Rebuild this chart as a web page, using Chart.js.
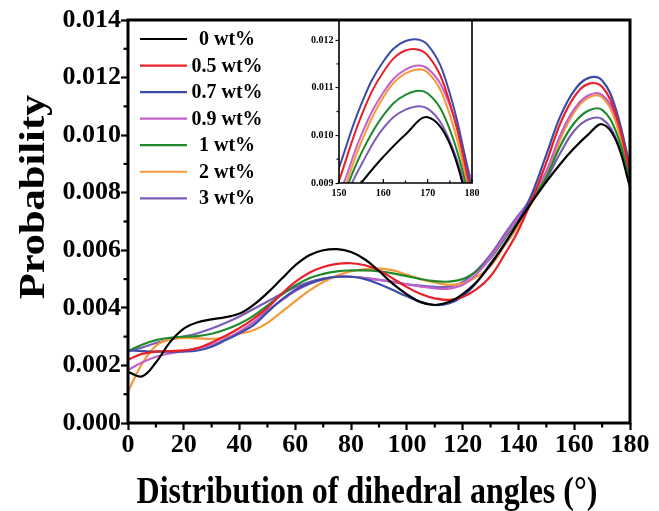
<!DOCTYPE html>
<html><head><meta charset="utf-8">
<script src="https://cdn.jsdelivr.net/npm/chart.js@4.4.0/dist/chart.umd.min.js"></script>
<style>
html,body{margin:0;padding:0;background:#fff;}
#wrap{position:relative;width:659px;height:511px;overflow:hidden;}
#main{position:absolute;left:0;top:0;}
#inset{position:absolute;left:290px;top:10px;}
</style></head><body>
<div id="wrap">
<canvas id="main" width="659" height="511"></canvas>
<canvas id="inset" width="200" height="210"></canvas>
</div>
<script>
// ---------- data ----------
const angles = [0,5,10,15,20,25,30,35,40,45,50,55,60,65,70,75,80,85,90,95,100,105,110,115,120,125,130,135,140,145,150,155,160,165,170,175,180];
const seriesLabels = ['0 wt%','0.5 wt%','0.7 wt%','0.9 wt%','1 wt%','2 wt%','3 wt%'];
const wt0  = [0.00178,0.00162,0.00210,0.00280,0.00328,0.00350,0.00360,0.00368,0.00380,0.00410,0.00452,0.00500,0.00548,0.00583,0.00600,0.00604,0.00594,0.00568,0.00528,0.00483,0.00447,0.00420,0.00410,0.00420,0.00448,0.00490,0.00550,0.00622,0.00698,0.00770,0.00838,0.00900,0.00955,0.01002,0.01038,0.00982,0.00820];
const wt05 = [0.00220,0.00240,0.00248,0.00250,0.00252,0.00260,0.00280,0.00303,0.00330,0.00362,0.00400,0.00448,0.00490,0.00522,0.00542,0.00553,0.00555,0.00548,0.00530,0.00502,0.00472,0.00448,0.00433,0.00428,0.00438,0.00465,0.00510,0.00585,0.00670,0.00780,0.00905,0.01040,0.01133,0.01178,0.01168,0.01068,0.00870];
const wt07 = [0.00252,0.00250,0.00248,0.00248,0.00248,0.00252,0.00265,0.00288,0.00312,0.00340,0.00385,0.00428,0.00462,0.00485,0.00500,0.00508,0.00508,0.00500,0.00483,0.00462,0.00440,0.00420,0.00410,0.00415,0.00440,0.00488,0.00555,0.00620,0.00700,0.00800,0.00932,0.01065,0.01155,0.01198,0.01190,0.01088,0.00885];
const wt09 = [0.00184,0.00210,0.00230,0.00242,0.00250,0.00260,0.00272,0.00292,0.00318,0.00350,0.00390,0.00425,0.00458,0.00483,0.00500,0.00508,0.00508,0.00503,0.00497,0.00490,0.00482,0.00474,0.00468,0.00467,0.00480,0.00518,0.00575,0.00645,0.00715,0.00790,0.00875,0.01000,0.01090,0.01138,0.01140,0.01063,0.00900];
const wt1  = [0.00250,0.00272,0.00288,0.00296,0.00300,0.00302,0.00310,0.00325,0.00345,0.00372,0.00408,0.00445,0.00478,0.00503,0.00518,0.00527,0.00530,0.00530,0.00527,0.00520,0.00510,0.00500,0.00493,0.00491,0.00500,0.00528,0.00572,0.00640,0.00710,0.00780,0.00855,0.00962,0.01042,0.01085,0.01088,0.01012,0.00848];
const wt2  = [0.00110,0.00205,0.00268,0.00290,0.00295,0.00294,0.00292,0.00298,0.00310,0.00322,0.00348,0.00385,0.00423,0.00460,0.00490,0.00512,0.00527,0.00535,0.00537,0.00530,0.00515,0.00500,0.00488,0.00480,0.00485,0.00508,0.00545,0.00615,0.00685,0.00770,0.00860,0.00985,0.01080,0.01130,0.01132,0.01043,0.00855];
const wt3  = [0.00250,0.00262,0.00278,0.00290,0.00300,0.00312,0.00328,0.00348,0.00370,0.00396,0.00422,0.00448,0.00472,0.00490,0.00502,0.00508,0.00508,0.00503,0.00497,0.00490,0.00482,0.00477,0.00473,0.00474,0.00490,0.00530,0.00585,0.00655,0.00722,0.00782,0.00848,0.00938,0.01015,0.01054,0.01056,0.00988,0.00841];
const seriesColors = ['#000000','#e8202a','#3b4ba8','#c461c8','#1f8a2c','#f59a3a','#7c5db8'];

const xTickValues = [0,20,40,60,80,100,120,140,160,180];
const xTickLabels = ['0','20','40','60','80','100','120','140','160','180'];
const yTickValues = [0,0.002,0.004,0.006,0.008,0.010,0.012,0.014];
const yTickLabels = ['0.000','0.002','0.004','0.006','0.008','0.010','0.012','0.014'];
const insetXTickValues = [150,160,170,180];
const insetXTickLabels = ['150','160','170','180'];
const insetYTickValues = [0.009,0.010,0.011,0.012];
const insetYTickLabels = ['0.009','0.010','0.011','0.012'];
const xTitle = 'Distribution of dihedral angles (°)';
const yTitle = 'Probability';

// ---------- helpers ----------
const FONT = '"Liberation Serif","Times New Roman",serif';
Chart.defaults.font.family = FONT;
Chart.defaults.color = '#000';
const allSeries = [wt0, wt05, wt07, wt09, wt1, wt2, wt3];

function makeDatasets(width){
  return allSeries.map((s,i)=>({
    label: seriesLabels[i],
    data: angles.map((a,j)=>({x:a, y:s[j]})),
    borderColor: seriesColors[i],
    backgroundColor: seriesColors[i],
    borderWidth: width,
    pointRadius: 0,
    tension: 0.4,
    fill: false
  }));
}
function mids(vals){ const r=[]; for(let i=0;i<vals.length-1;i++) r.push((vals[i]+vals[i+1])/2); return r; }

// main chart plugins
const mainDecor = {
  id:'mainDecor',
  afterDraw(chart){
    const {ctx, chartArea:ca, scales:{x,y}} = chart;
    ctx.save();
    ctx.strokeStyle='#000';
    // minor ticks
    ctx.lineWidth=2.2;
    mids(xTickValues).forEach(v=>{const px=x.getPixelForValue(v); ctx.beginPath(); ctx.moveTo(px,ca.bottom); ctx.lineTo(px,ca.bottom+4.5); ctx.stroke();});
    mids(yTickValues).forEach(v=>{const py=y.getPixelForValue(v); ctx.beginPath(); ctx.moveTo(ca.left,py); ctx.lineTo(ca.left-4.5,py); ctx.stroke();});
    // frame
    ctx.lineWidth=3;
    ctx.strokeRect(ca.left, ca.top, ca.right-ca.left, ca.bottom-ca.top);
    // legend
    ctx.font='bold 20px '+FONT;
    ctx.textAlign='center'; ctx.textBaseline='middle';
    chart.data.datasets.forEach((ds,i)=>{
      const yy = ca.top + 19 + i*26.55;
      ctx.strokeStyle=ds.borderColor; ctx.lineWidth=2.2;
      ctx.beginPath(); ctx.moveTo(ca.left+12,yy); ctx.lineTo(ca.left+59,yy); ctx.stroke();
      ctx.fillStyle='#000';
      ctx.fillText(ds.label, ca.left+99, yy+1);
    });
    // axis titles
    ctx.fillStyle='#000';
    ctx.save();
    ctx.font='bold 32px '+FONT;
    ctx.textAlign='center'; ctx.textBaseline='alphabetic';
    ctx.translate(367, 503); ctx.scale(1,1.18);
    ctx.fillText(xTitle,0,0);
    ctx.restore();
    ctx.save();
    ctx.font='bold 36px '+FONT;
    ctx.textAlign='center'; ctx.textBaseline='alphabetic';
    ctx.translate(44, 197); ctx.rotate(-Math.PI/2); ctx.scale(1.18,1);
    ctx.fillText(yTitle,0,0);
    ctx.restore();
    ctx.restore();
  }
};

new Chart(document.getElementById('main'), {
  type:'line',
  data:{datasets: makeDatasets(2.2)},
  options:{
    responsive:false, animation:false,
    layout:{padding:{left:0,right:29,top:20,bottom:0}},
    plugins:{legend:{display:false}, tooltip:{enabled:false}},
    scales:{
      x:{type:'linear', min:0, max:180,
        afterBuildTicks:s=>{s.ticks = xTickValues.map(v=>({value:v}));},
        afterFit:s=>{s.height=88;},
        ticks:{callback:(v,i)=>xTickLabels[i], font:{size:26,weight:'bold'}, padding:0, maxRotation:0, autoSkip:false},
        grid:{drawOnChartArea:false, drawTicks:true, tickLength:7, tickWidth:2.2, tickColor:'#000'},
        border:{display:false}
      },
      y:{type:'linear', min:0, max:0.014,
        afterBuildTicks:s=>{s.ticks = yTickValues.map(v=>({value:v}));},
        afterFit:s=>{s.width=128;},
        ticks:{callback:(v,i)=>yTickLabels[i], font:{size:26,weight:'bold'}, padding:0, autoSkip:false},
        grid:{drawOnChartArea:false, drawTicks:true, tickLength:7, tickWidth:2.2, tickColor:'#000'},
        border:{display:false}
      }
    }
  },
  plugins:[mainDecor]
});

// inset chart
const insetDecor = {
  id:'insetDecor',
  afterDraw(chart){
    const {ctx, chartArea:ca, scales:{x,y}} = chart;
    ctx.save();
    ctx.strokeStyle='#000';
    ctx.lineWidth=1.6;
    ctx.beginPath();
    ctx.moveTo(ca.left, ca.top); ctx.lineTo(ca.left, ca.bottom); ctx.lineTo(ca.right, ca.bottom); ctx.lineTo(ca.right, ca.top);
    ctx.stroke();
    ctx.lineWidth=1.2;
    insetXTickValues.forEach(v=>{const px=x.getPixelForValue(v); ctx.beginPath(); ctx.moveTo(px,ca.bottom); ctx.lineTo(px,ca.bottom-4); ctx.stroke();});
    mids(insetXTickValues).forEach(v=>{const px=x.getPixelForValue(v); ctx.beginPath(); ctx.moveTo(px,ca.bottom); ctx.lineTo(px,ca.bottom-2.5); ctx.stroke();});
    mids(insetYTickValues).concat([0.0125]).forEach(v=>{ if(v>y.max) return; const py=y.getPixelForValue(v); ctx.beginPath(); ctx.moveTo(ca.left,py); ctx.lineTo(ca.left-2.5,py); ctx.stroke();});
    ctx.restore();
  }
};

new Chart(document.getElementById('inset'), {
  type:'line',
  data:{datasets: makeDatasets(2)},
  options:{
    responsive:false, animation:false,
    layout:{padding:{left:0,right:18,top:11,bottom:0}},
    plugins:{legend:{display:false}, tooltip:{enabled:false}},
    scales:{
      x:{type:'linear', min:150, max:180,
        afterBuildTicks:s=>{s.ticks = insetXTickValues.map(v=>({value:v}));},
        afterFit:s=>{s.height=37;},
        ticks:{callback:(v,i)=>insetXTickLabels[i], font:{size:10,weight:'bold'}, padding:4, maxRotation:0, autoSkip:false},
        grid:{drawOnChartArea:false, drawTicks:false},
        border:{display:false}
      },
      y:{type:'linear', min:0.009, max:0.0124,
        afterBuildTicks:s=>{s.ticks = insetYTickValues.map(v=>({value:v}));},
        afterFit:s=>{s.width=49;},
        ticks:{callback:(v,i)=>insetYTickLabels[i], font:{size:10,weight:'bold'}, padding:2, autoSkip:false},
        grid:{drawOnChartArea:false, drawTicks:true, tickLength:3.5, tickWidth:1.2, tickColor:'#000'},
        border:{display:false}
      }
    }
  },
  plugins:[insetDecor]
});
</script>
</body></html>
